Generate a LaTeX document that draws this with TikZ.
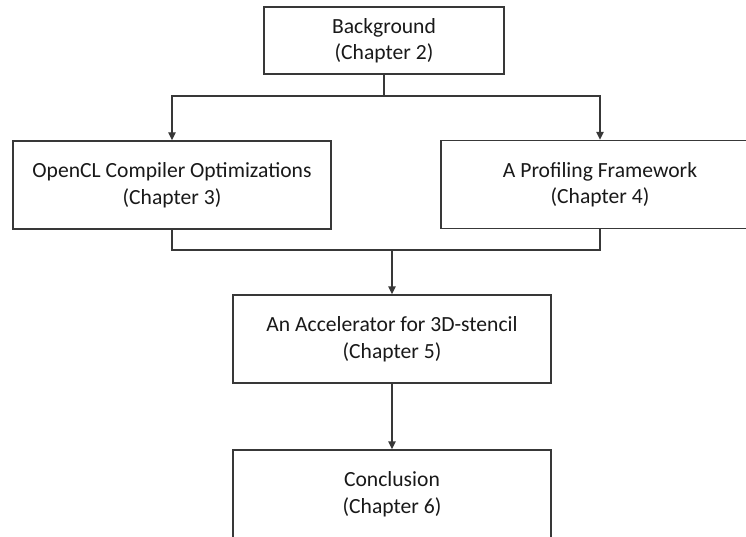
\documentclass[tikz,border=0pt]{standalone}
\usepackage{fontspec}
\setmainfont{Carlito}
\usetikzlibrary{arrows.meta}
\begin{document}
\begin{tikzpicture}[x=1pt,y=-1pt,
  chapbox/.style={draw=black!78, line width=1.4pt, fill=white, inner sep=0pt,
    minimum width=318pt, minimum height=88pt, align=center,
    font=\fontsize{21.6}{26.5}\selectfont, text=black!90},
  link/.style={draw=black!78, line width=1.4pt},
  tip/.style={-{Triangle[length=8pt,width=7.5pt]}}]
  \useasboundingbox (0,0) rectangle (746,537);
  \node[chapbox, minimum width=240pt, minimum height=67pt] (bg) at (384,40.5) {Background\\(Chapter 2)};
  \node[chapbox] (ocl) at (172,185) {OpenCL Compiler Optimizations\\(Chapter 3)};
  \node[chapbox] (prof) at (600,184.5) {A Profiling Framework\\(Chapter 4)};
  \node[chapbox] (acc) at (392,339) {An Accelerator for 3D-stencil\\(Chapter 5)};
  \node[chapbox] (conc) at (392,494) {Conclusion\\(Chapter 6)};
  \coordinate (split) at (384,96);
  \coordinate (join) at (392,250);
  \draw[link] (bg.south) -- (split);
  \draw[link,tip] (split) -| (ocl.north);
  \draw[link,tip] (split) -| (prof.north);
  \draw[link] (ocl.south) |- (join) -| (prof.south);
  \draw[link,tip] (join) -- (acc.north);
  \draw[link,tip] (acc.south) -- (conc.north);
\end{tikzpicture}
\end{document}
